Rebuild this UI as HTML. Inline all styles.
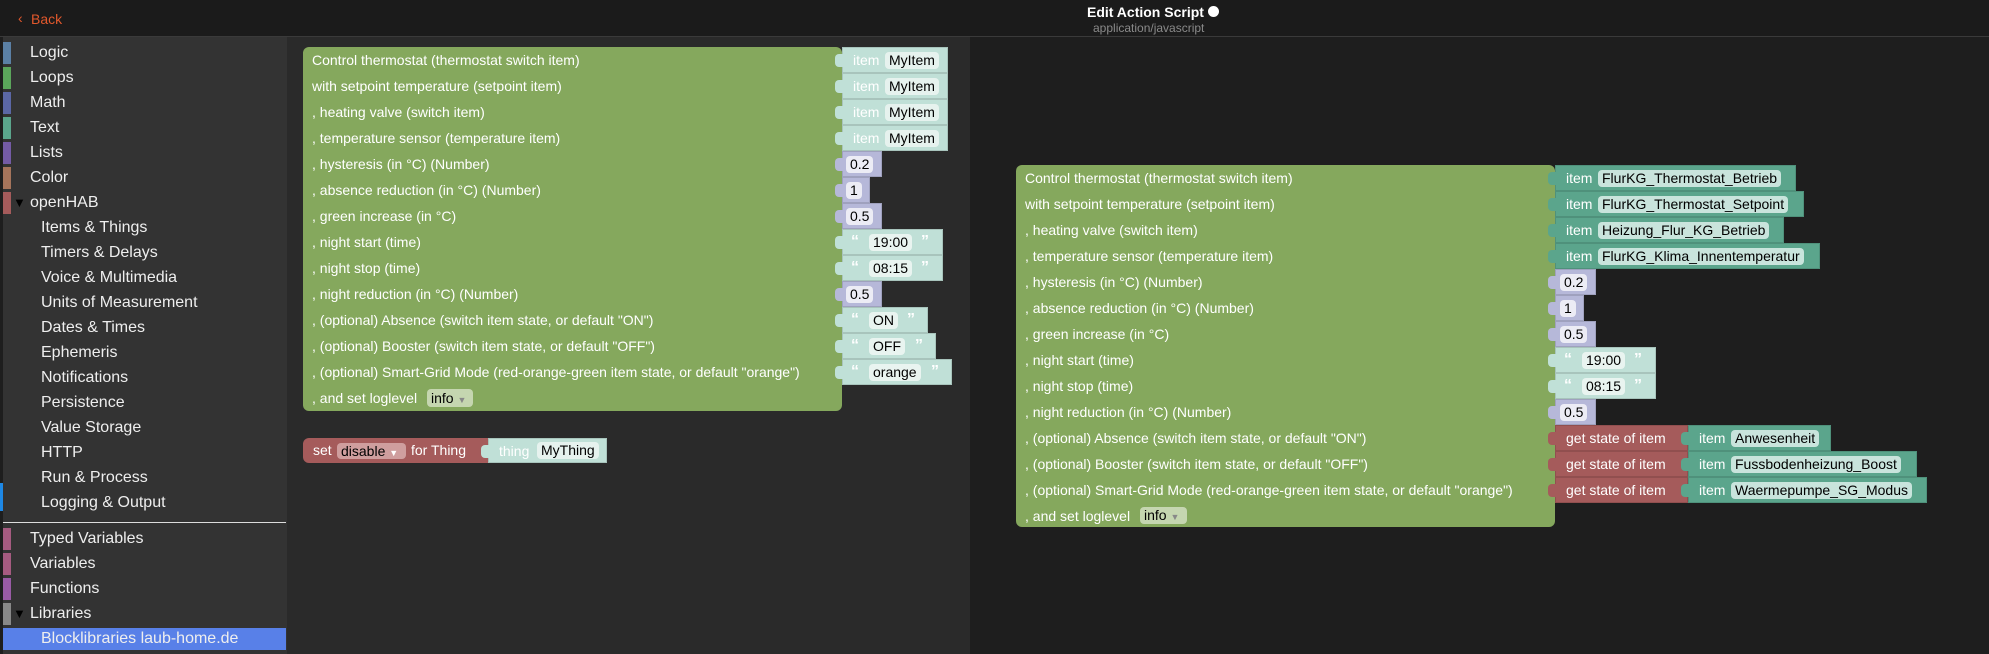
<!DOCTYPE html>
<html><head><meta charset="utf-8"><style>
*{margin:0;padding:0;box-sizing:border-box}
body{width:1989px;height:654px;overflow:hidden;background:#1e1e1e;font-family:"Liberation Sans",sans-serif;position:relative}
.a{position:absolute}
.hdr{left:0;top:0;width:1989px;height:37px;background:#1b1b1b;border-bottom:1px solid #3a3a3a}
.side{left:3px;top:37px;width:284px;height:617px;background:#333}
.si{position:absolute;color:#eee;font-size:16px;line-height:22px;height:22px}
.bar{position:absolute;left:3px;width:8px;height:22px}
.ws1{left:287px;top:37px;width:683px;height:617px;background:#2a2a2a}
.g{background:#85a85d;border-radius:6px}
.lbl{position:absolute;color:#fff;font-size:14px;line-height:26px;white-space:nowrap}
.in{position:absolute;height:26px;border:1px solid rgba(0,0,0,.12);color:#fff;font-size:14px;line-height:24px;white-space:nowrap}
.in .n{position:absolute;left:-8px;top:6px;width:9px;height:13px;border-radius:4px 0 0 4px;background:inherit}
.f{position:absolute;top:4px;height:17px;line-height:17px;border-radius:4px;color:#000;font-size:14px;padding:0 4px}
.it{background:#c0e0d7}.it .f{background:#e6f2ee}
.itd{background:#5ba58c}.itd .f{background:#c9e4dc}
.num{background:#b6b8d9}.num .f{background:#ececf5}
.tx{background:#c0e0d7}.tx .f{background:#e9f4f0}
.red{background:#a55b5b}
.q{position:absolute;top:0;color:#fff;font-size:16px;font-weight:bold}
</style></head><body>
<div class="a hdr"></div>
<div class="a" style="left:18px;top:10px;color:#e2582c;font-size:14px">&#x2039;</div>
<div class="a" style="left:31px;top:11px;color:#e2582c;font-size:14px">Back</div>
<div class="a" style="left:1087px;top:4px;color:#fff;font-size:14px;font-weight:bold">Edit Action Script <span style="display:inline-block;width:11px;height:11px;border-radius:50%;background:#fff"></span></div>
<div class="a" style="left:1093px;top:21px;color:#8a8a8a;font-size:12px">application/javascript</div>

<div class="a side"></div>
<div class="bar" style="top:42px;background:#5b80a5"></div><div class="si" style="left:30px;top:42px">Logic</div>
<div class="bar" style="top:67px;background:#5ba55b"></div><div class="si" style="left:30px;top:67px">Loops</div>
<div class="bar" style="top:92px;background:#5b67a5"></div><div class="si" style="left:30px;top:92px">Math</div>
<div class="bar" style="top:117px;background:#5ba58c"></div><div class="si" style="left:30px;top:117px">Text</div>
<div class="bar" style="top:142px;background:#745ba5"></div><div class="si" style="left:30px;top:142px">Lists</div>
<div class="bar" style="top:167px;background:#a5745b"></div><div class="si" style="left:30px;top:167px">Color</div>
<div class="bar" style="top:192px;background:#a55b5b"></div><div class="si" style="left:13px;top:192px;color:#000;font-size:13px">&#9660;</div><div class="si" style="left:30px;top:192px">openHAB</div>
<div class="si" style="left:41px;top:217px">Items &amp; Things</div>
<div class="si" style="left:41px;top:242px">Timers &amp; Delays</div>
<div class="si" style="left:41px;top:267px">Voice &amp; Multimedia</div>
<div class="si" style="left:41px;top:292px">Units of Measurement</div>
<div class="si" style="left:41px;top:317px">Dates &amp; Times</div>
<div class="si" style="left:41px;top:342px">Ephemeris</div>
<div class="si" style="left:41px;top:367px">Notifications</div>
<div class="si" style="left:41px;top:392px">Persistence</div>
<div class="si" style="left:41px;top:417px">Value Storage</div>
<div class="si" style="left:41px;top:442px">HTTP</div>
<div class="si" style="left:41px;top:467px">Run &amp; Process</div>
<div class="si" style="left:41px;top:492px">Logging &amp; Output</div>
<div class="a" style="left:0;top:483px;width:3px;height:28px;background:#1e88e5"></div>
<div class="a" style="left:3px;top:522px;width:283px;height:1px;background:#ddd"></div>
<div class="bar" style="top:528px;background:#a55b80"></div><div class="si" style="left:30px;top:528px">Typed Variables</div>
<div class="bar" style="top:553px;background:#a55b80"></div><div class="si" style="left:30px;top:553px">Variables</div>
<div class="bar" style="top:578px;background:#995ba5"></div><div class="si" style="left:30px;top:578px">Functions</div>
<div class="bar" style="top:603px;background:#888"></div><div class="si" style="left:13px;top:603px;color:#000;font-size:13px">&#9660;</div><div class="si" style="left:30px;top:603px">Libraries</div>
<div class="a" style="left:3px;top:628px;width:283px;height:22px;background:#5880e8"></div>
<div class="si" style="left:41px;top:628px">Blocklibraries laub-home.de</div>

<div class="a ws1"></div>

<!-- LEFT BLOCK -->
<div class="a g" style="left:303px;top:47px;width:539px;height:364px"></div>
<div class="lbl" style="left:312px;top:47px">Control thermostat (thermostat switch item)</div>
<div class="lbl" style="left:312px;top:73px">with setpoint temperature (setpoint item)</div>
<div class="lbl" style="left:312px;top:99px">, heating valve (switch item)</div>
<div class="lbl" style="left:312px;top:125px">, temperature sensor (temperature item)</div>
<div class="lbl" style="left:312px;top:151px">, hysteresis (in °C) (Number)</div>
<div class="lbl" style="left:312px;top:177px">, absence reduction (in °C) (Number)</div>
<div class="lbl" style="left:312px;top:203px">, green increase (in °C)</div>
<div class="lbl" style="left:312px;top:229px">, night start (time)</div>
<div class="lbl" style="left:312px;top:255px">, night stop (time)</div>
<div class="lbl" style="left:312px;top:281px">, night reduction (in °C) (Number)</div>
<div class="lbl" style="left:312px;top:307px">, (optional) Absence (switch item state, or default "ON")</div>
<div class="lbl" style="left:312px;top:333px">, (optional) Booster (switch item state, or default "OFF")</div>
<div class="lbl" style="left:312px;top:359px">, (optional) Smart-Grid Mode (red-orange-green item state, or default "orange")</div>
<div class="lbl" style="left:312px;top:385px">, and set loglevel</div>
<div class="a" style="left:427px;top:389px;width:46px;height:18px;border-radius:4px;background:#c5d6b0;font-size:14px;line-height:18px;padding-left:4px">info <span style="color:#888;font-size:9px">&#9660;</span></div>

<div class="in it" style="left:842px;top:47px;width:106px"><div class="n"></div><span style="position:absolute;left:10px">item</span><div class="f" style="left:42px">MyItem</div></div>
<div class="in it" style="left:842px;top:73px;width:106px"><div class="n"></div><span style="position:absolute;left:10px">item</span><div class="f" style="left:42px">MyItem</div></div>
<div class="in it" style="left:842px;top:99px;width:106px"><div class="n"></div><span style="position:absolute;left:10px">item</span><div class="f" style="left:42px">MyItem</div></div>
<div class="in it" style="left:842px;top:125px;width:106px"><div class="n"></div><span style="position:absolute;left:10px">item</span><div class="f" style="left:42px">MyItem</div></div>
<div class="in num" style="left:842px;top:151px;width:40px"><div class="n"></div><div class="f" style="left:3px">0.2</div></div>
<div class="in num" style="left:842px;top:177px;width:28px"><div class="n"></div><div class="f" style="left:3px">1</div></div>
<div class="in num" style="left:842px;top:203px;width:40px"><div class="n"></div><div class="f" style="left:3px">0.5</div></div>
<div class="in tx" style="left:842px;top:229px;width:101px"><div class="n"></div><span class="q" style="left:8px">“</span><div class="f" style="left:26px">19:00</div><span class="q" style="left:78px">”</span></div>
<div class="in tx" style="left:842px;top:255px;width:101px"><div class="n"></div><span class="q" style="left:8px">“</span><div class="f" style="left:26px">08:15</div><span class="q" style="left:78px">”</span></div>
<div class="in num" style="left:842px;top:281px;width:40px"><div class="n"></div><div class="f" style="left:3px">0.5</div></div>
<div class="in tx" style="left:842px;top:307px;width:86px"><div class="n"></div><span class="q" style="left:8px">“</span><div class="f" style="left:26px">ON</div><span class="q" style="left:64px">”</span></div>
<div class="in tx" style="left:842px;top:333px;width:94px"><div class="n"></div><span class="q" style="left:8px">“</span><div class="f" style="left:26px">OFF</div><span class="q" style="left:72px">”</span></div>
<div class="in tx" style="left:842px;top:359px;width:110px"><div class="n"></div><span class="q" style="left:8px">“</span><div class="f" style="left:26px">orange</div><span class="q" style="left:88px">”</span></div>

<!-- set disable -->
<div class="a red" style="left:303px;top:438px;width:185px;height:25px;border-radius:6px 0 0 6px"></div>
<div class="lbl" style="left:313px;top:438px;line-height:25px">set</div>
<div class="a" style="left:337px;top:443px;width:69px;height:16px;border-radius:4px;background:#cf9e9e;font-size:14px;line-height:16px;padding-left:4px;color:#000">disable <span style="color:#fff;font-size:9px">&#9660;</span></div>
<div class="lbl" style="left:411px;top:438px;line-height:25px">for Thing</div>
<div class="in it" style="left:488px;top:438px;width:119px;height:25px"><div class="n"></div><span style="position:absolute;left:10px">thing</span><div class="f" style="left:48px;top:3px">MyThing</div></div>

<!-- RIGHT BLOCK -->
<div class="a g" style="left:1016px;top:165px;width:539px;height:362px"></div>
<div class="lbl" style="left:1025px;top:165px">Control thermostat (thermostat switch item)</div>
<div class="lbl" style="left:1025px;top:191px">with setpoint temperature (setpoint item)</div>
<div class="lbl" style="left:1025px;top:217px">, heating valve (switch item)</div>
<div class="lbl" style="left:1025px;top:243px">, temperature sensor (temperature item)</div>
<div class="lbl" style="left:1025px;top:269px">, hysteresis (in °C) (Number)</div>
<div class="lbl" style="left:1025px;top:295px">, absence reduction (in °C) (Number)</div>
<div class="lbl" style="left:1025px;top:321px">, green increase (in °C)</div>
<div class="lbl" style="left:1025px;top:347px">, night start (time)</div>
<div class="lbl" style="left:1025px;top:373px">, night stop (time)</div>
<div class="lbl" style="left:1025px;top:399px">, night reduction (in °C) (Number)</div>
<div class="lbl" style="left:1025px;top:425px">, (optional) Absence (switch item state, or default "ON")</div>
<div class="lbl" style="left:1025px;top:451px">, (optional) Booster (switch item state, or default "OFF")</div>
<div class="lbl" style="left:1025px;top:477px">, (optional) Smart-Grid Mode (red-orange-green item state, or default "orange")</div>
<div class="lbl" style="left:1025px;top:503px">, and set loglevel</div>
<div class="a" style="left:1140px;top:507px;width:47px;height:17px;border-radius:4px;background:#c5d6b0;font-size:14px;line-height:17px;padding-left:4px">info <span style="color:#888;font-size:9px">&#9660;</span></div>

<div class="in itd" style="left:1555px;top:165px;width:241px"><div class="n"></div><span style="position:absolute;left:10px">item</span><div class="f" style="left:42px">FlurKG_Thermostat_Betrieb</div></div>
<div class="in itd" style="left:1555px;top:191px;width:249px"><div class="n"></div><span style="position:absolute;left:10px">item</span><div class="f" style="left:42px">FlurKG_Thermostat_Setpoint</div></div>
<div class="in itd" style="left:1555px;top:217px;width:229px"><div class="n"></div><span style="position:absolute;left:10px">item</span><div class="f" style="left:42px">Heizung_Flur_KG_Betrieb</div></div>
<div class="in itd" style="left:1555px;top:243px;width:265px"><div class="n"></div><span style="position:absolute;left:10px">item</span><div class="f" style="left:42px">FlurKG_Klima_Innentemperatur</div></div>
<div class="in num" style="left:1555px;top:269px;width:41px"><div class="n"></div><div class="f" style="left:4px">0.2</div></div>
<div class="in num" style="left:1555px;top:295px;width:29px"><div class="n"></div><div class="f" style="left:4px">1</div></div>
<div class="in num" style="left:1555px;top:321px;width:41px"><div class="n"></div><div class="f" style="left:4px">0.5</div></div>
<div class="in tx" style="left:1555px;top:347px;width:101px"><div class="n"></div><span class="q" style="left:8px">“</span><div class="f" style="left:26px">19:00</div><span class="q" style="left:78px">”</span></div>
<div class="in tx" style="left:1555px;top:373px;width:101px"><div class="n"></div><span class="q" style="left:8px">“</span><div class="f" style="left:26px">08:15</div><span class="q" style="left:78px">”</span></div>
<div class="in num" style="left:1555px;top:399px;width:41px"><div class="n"></div><div class="f" style="left:4px">0.5</div></div>

<div class="in red" style="left:1555px;top:425px;width:133px"><div class="n"></div><span style="position:absolute;left:10px">get state of item</span></div>
<div class="in red" style="left:1555px;top:451px;width:133px"><div class="n"></div><span style="position:absolute;left:10px">get state of item</span></div>
<div class="in red" style="left:1555px;top:477px;width:133px"><div class="n"></div><span style="position:absolute;left:10px">get state of item</span></div>
<div class="in itd" style="left:1688px;top:425px;width:143px"><div class="n"></div><span style="position:absolute;left:10px">item</span><div class="f" style="left:42px">Anwesenheit</div></div>
<div class="in itd" style="left:1688px;top:451px;width:229px"><div class="n"></div><span style="position:absolute;left:10px">item</span><div class="f" style="left:42px">Fussbodenheizung_Boost</div></div>
<div class="in itd" style="left:1688px;top:477px;width:239px"><div class="n"></div><span style="position:absolute;left:10px">item</span><div class="f" style="left:42px">Waermepumpe_SG_Modus</div></div>
</body></html>
